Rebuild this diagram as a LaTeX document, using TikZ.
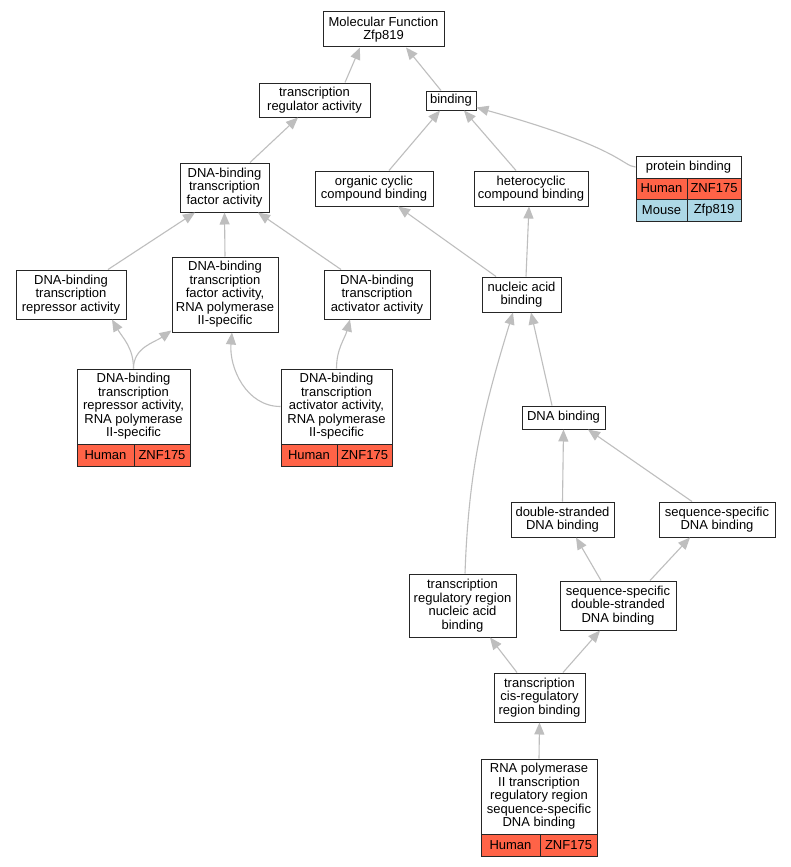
\documentclass[tikz,border=0pt]{standalone}
\usepackage{fontspec}
\setmainfont{Liberation Sans}
\usetikzlibrary{arrows.meta}
\definecolor{human}{HTML}{FF6347}
\definecolor{mouse}{HTML}{ADD8E6}
\definecolor{edgegray}{HTML}{BEBEBE}

\begin{document}
\begin{tikzpicture}[x=1pt, y=-1pt, align=center,
  term/.style={draw=black!85, line width=1pt, fill=white, inner sep=0pt,
    font=\fontsize{13}{13.5}\selectfont},
  cell/.style={draw=black!85, line width=0.9pt, inner sep=0pt,
    font=\fontsize{13}{13.5}\selectfont},
  edge/.style={draw=edgegray, line width=1.1pt,
    -{Triangle[length=12pt, width=10pt, fill=edgegray]}}]
\fill[white] (0,0) rectangle (791,867);
\useasboundingbox (0,0) rectangle (791,867);

% terms
\node[term, minimum width=121, minimum height=35] (mf) at (383.5,29.5) {Molecular Function\\Zfp819};
\node[term, minimum width=111, minimum height=34] (tra) at (314.5,100) {transcription\\regulator activity};
\node[term, minimum width=50, minimum height=19] (bind) at (451,100.5) {binding};
\node[term, minimum width=89, minimum height=49] (dtf) at (224.5,187.5) {DNA-binding\\transcription\\factor activity};
\node[term, minimum width=118, minimum height=35] (ocb) at (374,188.5) {organic cyclic\\compound binding};
\node[term, minimum width=114, minimum height=35] (hcb) at (531,188.5) {heterocyclic\\compound binding};
\node[term, minimum width=110, minimum height=49] (rep) at (71,294.5) {DNA-binding\\transcription\\repressor activity};
\node[term, minimum width=106, minimum height=75] (dtfp) at (225,294.5) {DNA-binding\\transcription\\factor activity,\\RNA polymerase\\II-specific};
\node[term, minimum width=106, minimum height=49] (act) at (377,294.5) {DNA-binding\\transcription\\activator activity};
\node[term, minimum width=79, minimum height=35] (nab) at (521.5,294.5) {nucleic acid\\binding};
\node[term, minimum width=83, minimum height=23] (dnab) at (563.5,417.5) {DNA binding};
\node[term, minimum width=103, minimum height=35] (dsb) at (562.5,519.5) {double-stranded\\DNA binding};
\node[term, minimum width=116, minimum height=35] (ssb) at (717,519.5) {sequence-specific\\DNA binding};
\node[term, minimum width=116, minimum height=49] (ssds) at (618,605.5) {sequence-specific\\double-stranded\\DNA binding};
\node[term, minimum width=107, minimum height=63] (trr) at (462.5,605.5) {transcription\\regulatory region\\nucleic acid\\binding};
\node[term, minimum width=91, minimum height=49] (cis) at (539.5,697.5) {transcription\\cis-regulatory\\region binding};

% terms with genes
\node[term, minimum width=105, minimum height=22] (pb) at (688.5,167) {protein binding};
\node[cell, fill=human, minimum width=51, minimum height=21] (pbh) at (661.5,188.5) {Human};
\node[cell, fill=human, minimum width=54, minimum height=21] (pbhg) at (714,188.5) {ZNF175};
\node[cell, fill=mouse, minimum width=51, minimum height=22] (pbm) at (661.5,210) {Mouse};
\node[cell, fill=mouse, minimum width=54, minimum height=22] (pbmg) at (714,210) {Zfp819};

\node[term, minimum width=113, minimum height=75] (repp) at (133.5,406.5) {DNA-binding\\transcription\\repressor activity,\\RNA polymerase\\II-specific};
\node[cell, fill=human, minimum width=57, minimum height=22] (repph) at (105.5,455) {Human};
\node[cell, fill=human, minimum width=56, minimum height=22] (repphg) at (162,455) {ZNF175};

\node[term, minimum width=111, minimum height=75] (actp) at (336.5,406.5) {DNA-binding\\transcription\\activator activity,\\RNA polymerase\\II-specific};
\node[cell, fill=human, minimum width=56, minimum height=22] (actph) at (309,455) {Human};
\node[cell, fill=human, minimum width=55, minimum height=22] (actphg) at (364.5,455) {ZNF175};

\node[term, minimum width=116, minimum height=75] (rnap) at (539,796.5) {RNA polymerase\\II transcription\\regulatory region\\sequence-specific\\DNA binding};
\node[cell, fill=human, minimum width=59, minimum height=22] (rnaph) at (510.5,845) {Human};
\node[cell, fill=human, minimum width=57, minimum height=22] (rnaphg) at (568.5,845) {ZNF175};

% is_a edges
\draw[edge] ([xshift=30.5]tra.north) -- ([xshift=-23.5]mf.south);
\draw[edge] ([xshift=-10]bind.north) -- ([xshift=22.5]mf.south);
\draw[edge] ([xshift=25.5]dtf.north) -- ([xshift=-16.5]tra.south);
\draw[edge] ([xshift=15]ocb.north) -- ([xshift=-11]bind.south);
\draw[edge] ([xshift=-15]hcb.north) -- ([xshift=13]bind.south);
\draw[edge] (pb.west) .. controls (622,166) and (622,148) .. ([yshift=-7]bind.east);
\draw[edge] ([xshift=37]rep.north) -- ([xshift=-29.5]dtf.south);
\draw[edge] (dtfp.north) -- (dtf.south);
\draw[edge] ([xshift=-36]act.north) -- ([xshift=33.5]dtf.south);
\draw[edge] ([xshift=-25.5]nab.north) -- ([xshift=24]ocb.south);
\draw[edge] ([xshift=4.5]nab.north) -- ([xshift=-2]hcb.south);
\draw[edge] (repp.north) to[out=90, in=-60] ([xshift=41]rep.south);
\draw[edge] (repp.north) to[out=90, in=-145] ([yshift=2]dtfp.south west);
\draw[edge] (actp.west) to[out=180, in=-95] ([xshift=7]dtfp.south);
\draw[edge] (actp.north) to[out=90, in=-105] ([xshift=-27]act.south);
\draw[edge] ([xshift=-11.5]dnab.north) -- ([xshift=9.5]nab.south);
\draw[edge] ([xshift=2.5]trr.north) to[out=88, in=-107] ([xshift=-8.5]nab.south);
\draw[edge] (dsb.north) -- (dnab.south);
\draw[edge] ([xshift=-25]ssb.north) -- ([xshift=24.5]dnab.south);
\draw[edge] ([xshift=-17]ssds.north) -- ([xshift=13.5]dsb.south);
\draw[edge] ([xshift=32]ssds.north) -- ([xshift=-27]ssb.south);
\draw[edge] ([xshift=-22.5]cis.north) -- ([xshift=27.5]trr.south);
\draw[edge] ([xshift=23.5]cis.north) -- ([xshift=-18]ssds.south);
\draw[edge] (rnap.north) -- (cis.south);
\end{tikzpicture}
\end{document}
